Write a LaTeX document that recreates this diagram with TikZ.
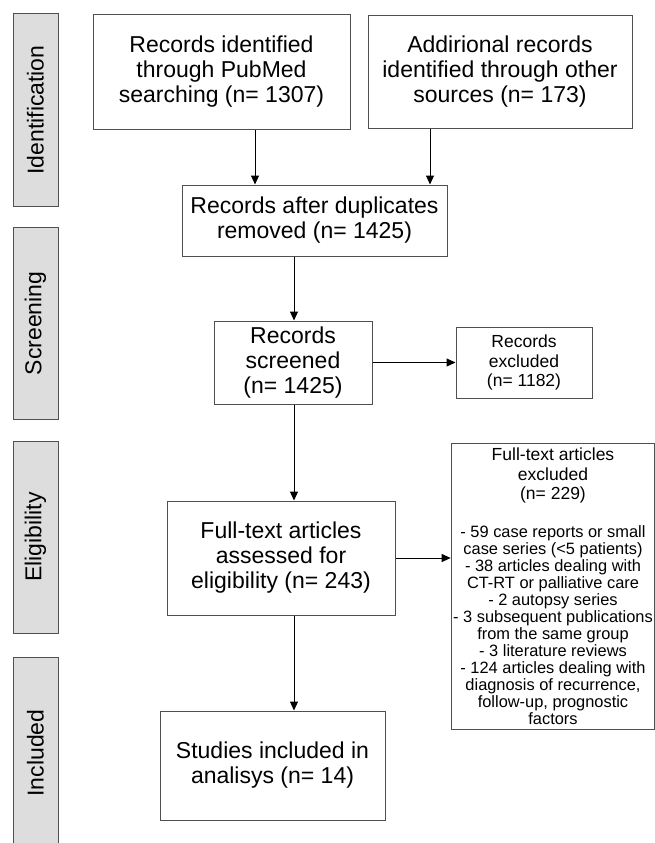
\documentclass[tikz,border=0pt]{standalone}
\usepackage{fontspec}
\setmainfont{Liberation Sans}
\usetikzlibrary{arrows.meta}

\definecolor{labelgray}{RGB}{221,221,221}
\definecolor{framegray}{RGB}{80,80,80}

\tikzset{
  box/.style={draw=framegray, line width=1pt, align=center, inner sep=2pt,
    font=\fontsize{23}{25}\selectfont},
  smallbox/.style={box, font=\fontsize{17.5}{19.5}\selectfont},
  listbox/.style={box, font=\fontsize{16.4}{17}\selectfont},
  phase/.style={draw=framegray, line width=1pt, fill=labelgray, rotate=90,
    minimum width=192pt, minimum height=45pt, inner sep=0pt,
    font=\fontsize{23}{25}\selectfont},
  flow/.style={->, line width=1pt},
  >={Triangle[length=9pt,width=8pt]}
}

\begin{document}
\begin{tikzpicture}[x=1pt, y=-1pt]

\useasboundingbox (0,0) rectangle (654,843);

\node (idlab) at (35.5,110) [phase] {Identification};
\node (scrlab) at (35.5,323.5) [phase] {Screening};
\node (elilab) at (35.5,537) [phase] {Eligibility};
\node (inclab) at (35.5,753) [phase] {Included};

\node (pubmed) at (221.5,72) [box, minimum width=257pt, minimum height=114pt]
  {Records identified\\ through PubMed\\ searching (n= 1307)};
\node (other) at (500,72) [box, minimum width=264pt, minimum height=112pt]
  {Addirional records\\ identified through other\\ sources (n= 173)};
\node (dupl) at (314.5,220.5) [box, minimum width=265pt, minimum height=71pt]
  {Records after duplicates\\ removed (n= 1425)};
\node (screened) at (293,362.5) [box, minimum width=158pt, minimum height=83pt]
  {Records\\ screened\\ (n= 1425)};
\node (recexcl) at (524,362.5) [smallbox, minimum width=136pt, minimum height=71pt]
  {Records\\ excluded\\ (n= 1182)};
\node (assessed) at (281,558) [box, minimum width=228pt, minimum height=114pt]
  {Full-text articles\\ assessed for\\ eligibility (n= 243)};
\node (ftexcl) at (553,586) [listbox, minimum width=200pt, minimum height=286pt]
  {{\fontsize{17.5}{17}\selectfont Full-text articles}\\[2.5pt]
   {\fontsize{17.5}{17}\selectfont excluded}\\[2.5pt]
   {\fontsize{17.5}{17}\selectfont (n= 229)}\\[20.5pt]
   - 59 case reports or small\\ case series (<5 patients)\\
   - 38 articles dealing with\\ CT-RT or palliative care\\
   - 2 autopsy series\\ - 3 subsequent publications\\
   from the same group\\ - 3 literature reviews\\
   - 124 articles dealing with\\ diagnosis of recurrence,\\
   follow-up, prognostic\\ factors};
\node (studies) at (272.5,765.5) [box, minimum width=225pt, minimum height=109pt]
  {Studies included in\\ analisys (n= 14)};

\coordinate (pmx) at (255,0);
\coordinate (otx) at (430,0);
\coordinate (mainx) at (294,0);

\draw [flow] (pubmed.south -| pmx) -- (dupl.north -| pmx);
\draw [flow] (other.south -| otx) -- (dupl.north -| otx);
\draw [flow] (dupl.south -| mainx) -- (screened.north -| mainx);
\draw [flow] (screened.south -| mainx) -- (assessed.north -| mainx);
\draw [flow] (assessed.south -| mainx) -- (studies.north -| mainx);
\draw [flow] (screened.east) -- (recexcl.west);
\draw [flow] (assessed.east) -- (ftexcl.west |- assessed.east);

\end{tikzpicture}
\end{document}
